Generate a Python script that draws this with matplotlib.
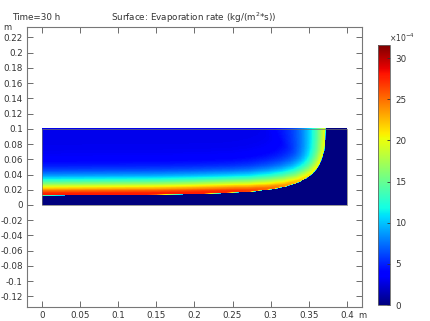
import numpy as np
import matplotlib
matplotlib.use("Agg")
import matplotlib.pyplot as plt
from matplotlib.patches import Rectangle

# drying front (m)
frontX = [0.0, 0.15, 0.2, 0.247, 0.274, 0.3, 0.32, 0.337, 0.348, 0.356,
          0.3625, 0.367, 0.3705, 0.372, 0.3725]
frontY = [0.0118, 0.0128, 0.0138, 0.0154, 0.0168, 0.0197, 0.0235, 0.029, 0.035,
          0.041, 0.049, 0.058, 0.07, 0.085, 0.1]
# peak rate just behind the front (x1e-4 kg/(m^2*s)), decay width (m), decay shape
frontPeak = [27.8, 27.8, 27.7, 27.3, 26.5, 25.0, 23.5, 22.0, 21.0, 20.3,
             20.0, 19.8, 19.6, 19.5, 19.5]
frontWidth = [0.0185, 0.0185, 0.0185, 0.0185, 0.0185, 0.019, 0.0195, 0.02, 0.021,
              0.0215, 0.022, 0.0225, 0.023, 0.024, 0.025]
frontShape = [1.4, 1.4, 1.4, 1.4, 1.35, 1.3, 1.25, 1.2, 1.15, 1.1,
              1.05, 1.0, 1.0, 1.0, 1.0]
baseRate = 3.0
rateMax = 31.6

domainW, domainH = 0.4, 0.1
xTicks = [0, 0.05, 0.1, 0.15, 0.2, 0.25, 0.3, 0.35, 0.4]
xTickLabels = ["0", "0.05", "0.1", "0.15", "0.2", "0.25", "0.3", "0.35", "0.4"]
yTicks = [-0.12, -0.1, -0.08, -0.06, -0.04, -0.02, 0, 0.02, 0.04, 0.06, 0.08,
          0.1, 0.12, 0.14, 0.16, 0.18, 0.2, 0.22]
cbTicks = [0, 5, 10, 15, 20, 25, 30]

# field on a grid: distance to the front polyline, parameters blended
# between nearby segments so nothing jumps across the corner
xs = np.linspace(0, domainW, 801)
ys = np.linspace(0, domainH, 201)
X, Y = np.meshgrid(xs, ys)
fx = np.array(frontX)
fy = np.array(frontY)
nSeg = len(fx) - 1
dist = np.empty((nSeg,) + X.shape)
sPar = np.empty((nSeg,) + X.shape)
for i in range(nSeg):
    dx, dy = fx[i + 1] - fx[i], fy[i + 1] - fy[i]
    t = ((X - fx[i]) * dx + (Y - fy[i]) * dy) / (dx * dx + dy * dy)
    t = np.clip(t, 0, 1)
    dist[i] = np.hypot(X - fx[i] - t * dx, Y - fy[i] - t * dy)
    sPar[i] = i + t
best = dist.min(axis=0)
wts = np.exp(-(dist - best) / 0.004)
wts /= wts.sum(axis=0)
idx = np.arange(len(fx))
pk = (wts * np.interp(sPar, idx, frontPeak)).sum(axis=0)
wd = (wts * np.interp(sPar, idx, frontWidth)).sum(axis=0)
pw = (wts * np.interp(sPar, idx, frontShape)).sum(axis=0)
d0 = 0.0025
ramp = np.clip(0.35 + best / 0.0012, 0, 1)
tail = np.clip(best - d0, 0, None) / wd
Z = ramp * (baseRate + (pk - baseRate) * np.exp(-tail ** pw))
wet = (X <= fx[-1]) & (Y >= np.interp(X, fx, fy))
Z[~wet] = 0.0

fig = plt.figure(figsize=(4.31, 3.21), dpi=100)
ax = fig.add_axes([0.0626, 0.0436, 0.777, 0.873])
ax.imshow(Z, origin="lower", extent=[0, domainW, 0, domainH], cmap="jet",
          vmin=0, vmax=rateMax, aspect="auto", interpolation="nearest")
ax.add_patch(Rectangle((0, 0), domainW, domainH, fill=False, ec="#707070", lw=0.5))
ax.set_xlim(-0.0197, 0.4197)
ax.set_ylim(-0.134, 0.234)

tc = "#333333"
ax.set_xticks(xTicks)
ax.set_xticklabels(xTickLabels)
ax.set_yticks(yTicks)
ax.set_yticklabels(["%g" % v for v in yTicks])
ax.tick_params(direction="in", length=4, width=0.6, top=True, right=True,
               labelsize=6.3, colors="#555555", labelcolor=tc, pad=3)
for sp in ax.spines.values():
    sp.set_color("#777777")
    sp.set_linewidth(0.8)

fig.text(3.5 / 431, 1 - 27 / 321, "m", fontsize=6, color=tc, va="center")
fig.text(358 / 431, 1 - 315 / 321, "m", fontsize=6, color=tc, va="center")
fig.text(12 / 431, 1 - 17 / 321, "Time=30 h", fontsize=6.3, color=tc, va="center")
fig.text(194 / 431, 1 - 18 / 321, "Surface: Evaporation rate (kg/(m$^2$*s))",
         fontsize=6.3, color=tc, va="center", ha="center")

cax = fig.add_axes([0.876, 0.0498, 0.0286, 0.81])
sm = plt.cm.ScalarMappable(cmap="jet", norm=plt.Normalize(0, rateMax))
cb = fig.colorbar(sm, cax=cax, ticks=cbTicks)
cb.outline.set_edgecolor("#666666")
cb.outline.set_linewidth(0.6)
cax.tick_params(direction="in", length=2.5, width=0.6, labelsize=6.3,
                labelcolor=tc, colors="#333333", pad=4)
fig.text(389 / 431, 1 - 38 / 321, "×10$^{-4}$", fontsize=5.5, color=tc, va="center")

fig.savefig("out.png", dpi=100)
